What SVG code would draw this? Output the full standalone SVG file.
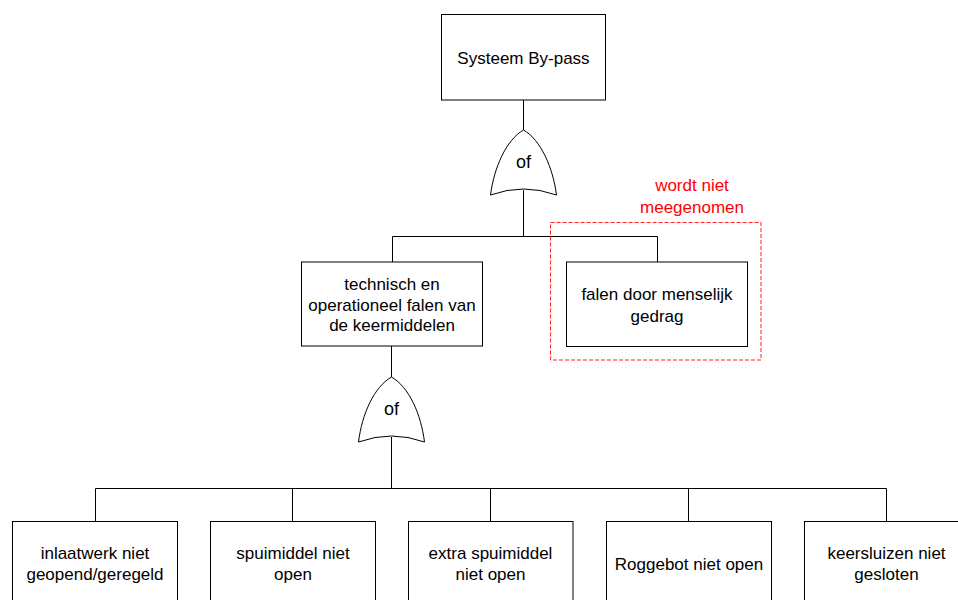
<svg xmlns="http://www.w3.org/2000/svg" width="958" height="600" viewBox="0 0 958 600">
  <style>
    .box { fill: #ffffff; stroke: #000000; stroke-width: 1; }
    .gate { fill: #ffffff; stroke: #000000; stroke-width: 1; }
    .wire { fill: none; stroke: #000000; stroke-width: 1; }
    .lbl { font-family: "Liberation Sans", Arial, sans-serif; font-size: 17px; fill: #000000; text-anchor: middle; }
    .glbl { font-family: "Liberation Sans", Arial, sans-serif; font-size: 18px; fill: #000000; text-anchor: middle; }
    .note { font-family: "Liberation Sans", Arial, sans-serif; font-size: 17px; fill: #ff0000; text-anchor: middle; }
    .excl { fill: none; stroke: #ff2020; stroke-width: 1; stroke-dasharray: 4 2; }
  </style>
  <rect width="958" height="600" fill="#ffffff"/>

  <!-- connectors -->
  <g id="connectors">
    <path class="wire" d="M523.5,100 V130"/>
    <path class="wire" d="M523.5,190 V236.5"/>
    <path class="wire" d="M392.5,262 V236.5 H657.5 V262"/>
    <path class="wire" d="M391.5,346 V377"/>
    <path class="wire" d="M391.5,437 V488.5"/>
    <path class="wire" d="M95.5,521 V488.5 H886.5 V521"/>
    <path class="wire" d="M292.5,488.5 V521"/>
    <path class="wire" d="M490.5,488.5 V521"/>
    <path class="wire" d="M688.5,488.5 V521"/>
  </g>

  <!-- top event -->
  <g id="top-event">
    <rect class="box" x="441.5" y="14.5" width="164" height="85.5"/>
    <text class="lbl" x="523.5" y="63.5">Systeem By-pass</text>
  </g>

  <!-- OR gate under the top event -->
  <g id="gate-top">
    <path class="gate" d="M523.5,130 C506,140 494,168 490.5,195 Q523.5,183 556.5,195 C553,168 541,140 523.5,130 Z"/>
    <text class="glbl" x="523.5" y="167.5">of</text>
  </g>

  <!-- technical / operational failure -->
  <g id="technical-failure">
    <rect class="box" x="301.5" y="262" width="181" height="84"/>
    <text class="lbl" x="392" y="290">technisch en</text>
    <text class="lbl" x="392" y="310.5">operationeel falen van</text>
    <text class="lbl" x="392" y="331">de keermiddelen</text>
  </g>

  <!-- human failure, excluded -->
  <g id="human-failure">
    <rect class="excl" x="550.5" y="222.5" width="210.5" height="137.5"/>
    <text class="note" x="692" y="190.5">wordt niet</text>
    <text class="note" x="692" y="213">meegenomen</text>
    <rect class="box" x="566.5" y="262" width="181" height="84.5"/>
    <text class="lbl" x="657" y="300">falen door menselijk</text>
    <text class="lbl" x="657" y="321.5">gedrag</text>
  </g>

  <!-- OR gate under technical failure -->
  <g id="gate-technical">
    <path class="gate" d="M391.5,377 C374,387 362,414 358.5,442 Q391.5,430 424.5,442 C421,414 409,387 391.5,377 Z"/>
    <text class="glbl" x="391.5" y="415">of</text>
  </g>

  <!-- basic events -->
  <g id="inlaatwerk">
    <rect class="box" x="12.5" y="521.5" width="165" height="86"/>
    <text class="lbl" x="95" y="558.5">inlaatwerk niet</text>
    <text class="lbl" x="95" y="580">geopend/geregeld</text>
  </g>
  <g id="spuimiddel">
    <rect class="box" x="210.5" y="521.5" width="165" height="86"/>
    <text class="lbl" x="293" y="558.5">spuimiddel niet</text>
    <text class="lbl" x="293" y="580">open</text>
  </g>
  <g id="extra-spuimiddel">
    <rect class="box" x="408.5" y="521.5" width="164.5" height="86"/>
    <text class="lbl" x="490.5" y="558.5">extra spuimiddel</text>
    <text class="lbl" x="490.5" y="580">niet open</text>
  </g>
  <g id="roggebot">
    <rect class="box" x="606.5" y="521.5" width="165" height="86"/>
    <text class="lbl" x="689" y="570">Roggebot niet open</text>
  </g>
  <g id="keersluizen">
    <rect class="box" x="804.5" y="521.5" width="165" height="86"/>
    <text class="lbl" x="886.5" y="558.5">keersluizen niet</text>
    <text class="lbl" x="886.5" y="580">gesloten</text>
  </g>
</svg>
